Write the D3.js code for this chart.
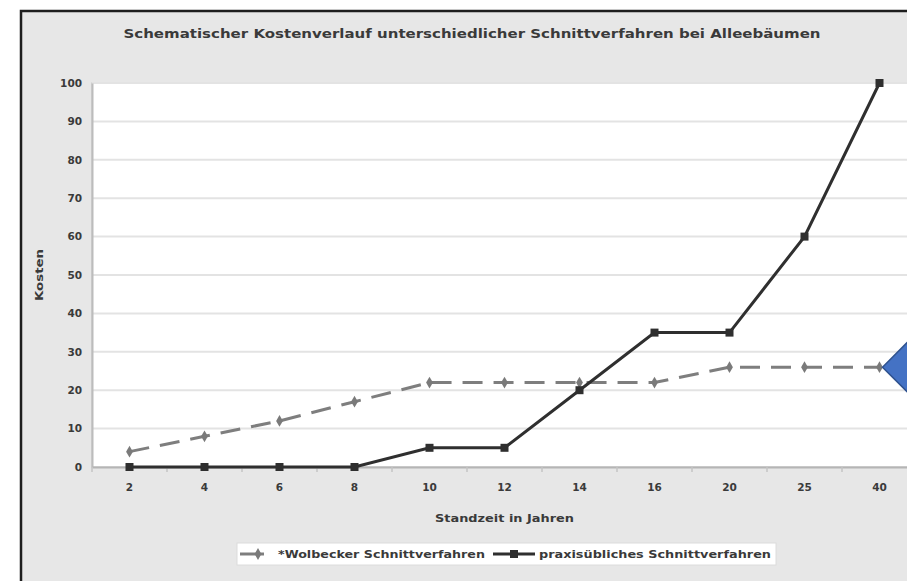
<!DOCTYPE html>
<html><head><meta charset="utf-8">
<script src="https://cdn.jsdelivr.net/npm/d3@7"></script>
<style>body{margin:0;background:#fff;overflow:hidden}</style>
</head><body><svg id="c" width="907" height="581"></svg>
<script>
const categories = ["2","4","6","8","10","12","14","16","20","25","40"];
const wolbecker = [4,8,12,17,22,22,22,22,26,26,26];
const praxis = [0,0,0,0,5,5,20,35,35,60,100];
const yTicks = [0,10,20,30,40,50,60,70,80,90,100];
const seriesNames = ["*Wolbecker Schnittverfahren","praxisübliches Schnittverfahren"];
const title = "Schematischer Kostenverlauf unterschiedlicher Schnittverfahren bei Alleebäumen";
const xTitle = "Standzeit in Jahren";
const yTitle = "Kosten";

const svg = d3.select("#c");
const font = "'DejaVu Sans', Arial, sans-serif";
const txt = "#3a3a3a";

// outer frame
svg.append("rect").attr("x",21).attr("y",11).attr("width",920).attr("height",600)
  .attr("fill","#e7e7e7").attr("stroke","#1e1e1e").attr("stroke-width",2.5);

const m = {left:92, top:83, right:917, bottom:467};
const x = d3.scaleBand().domain(categories).range([m.left,m.right]);
const y = d3.scaleLinear().domain([0,100]).range([m.bottom,m.top]);
const cx = (i)=>x(categories[i])+x.bandwidth()/2;

// plot area
svg.append("rect").attr("x",m.left).attr("y",m.top).attr("width",m.right-m.left).attr("height",m.bottom-m.top)
  .attr("fill","#fff").attr("stroke","#cfcfcf").attr("stroke-width",1.5);

// gridlines
svg.append("g").selectAll("line").data(yTicks.slice(1)).join("line")
  .attr("x1",m.left).attr("x2",m.right).attr("y1",d=>y(d)).attr("y2",d=>y(d))
  .attr("stroke","#e3e3e3").attr("stroke-width",2);

// y axis
const ya = svg.append("g").attr("transform",`translate(${m.left},0)`)
  .call(d3.axisLeft(y).tickValues(yTicks).tickSize(0).tickPadding(10));
ya.select(".domain").attr("stroke","#bcbcbc").attr("stroke-width",2);
ya.selectAll("text").attr("font-family",font).attr("font-size","10.5px").attr("font-weight","bold").attr("fill",txt);

// x axis
const xa = svg.append("g").attr("transform",`translate(0,${m.bottom})`)
  .call(d3.axisBottom(x).tickSize(0).tickPadding(17));
xa.select(".domain").attr("stroke","#b5b5b5").attr("stroke-width",2);
xa.selectAll("text").attr("font-family",font).attr("font-size","10.5px").attr("font-weight","bold").attr("fill",txt);
// band boundary ticks
svg.append("g").selectAll("line").data(categories).join("line")
  .attr("x1",d=>x(d)).attr("x2",d=>x(d)).attr("y1",m.bottom).attr("y2",m.bottom+5)
  .attr("stroke","#c4c4c4").attr("stroke-width",1.5);

// series lines
const line = d3.line().x((d,i)=>cx(i)).y(d=>y(d));
svg.append("path").datum(wolbecker).attr("d",line).attr("fill","none")
  .attr("stroke","#7e7e7e").attr("stroke-width",3).attr("stroke-dasharray","20,11");
svg.append("g").selectAll("path").data(wolbecker).join("path")
  .attr("transform",(d,i)=>`translate(${cx(i)},${y(d)})`)
  .attr("d",d3.symbol(d3.symbolDiamond,40)).attr("fill","#7a7a7a");

svg.append("path").datum(praxis).attr("d",line).attr("fill","none")
  .attr("stroke","#2f2f2f").attr("stroke-width",3);
svg.append("g").selectAll("rect").data(praxis).join("rect")
  .attr("x",(d,i)=>cx(i)-4).attr("y",d=>y(d)-4).attr("width",8).attr("height",8).attr("fill","#2f2f2f");

// title
svg.append("text").attr("x",472).attr("y",38).attr("text-anchor","middle")
  .attr("font-family",font).attr("font-size","13px").attr("font-weight","bold").attr("fill",txt)
  .attr("textLength",697).attr("lengthAdjust","spacingAndGlyphs").text(title);

// axis titles
svg.append("text").attr("x",(m.left+m.right)/2).attr("y",522).attr("text-anchor","middle")
  .attr("font-family",font).attr("font-size","10.5px").attr("font-weight","bold").attr("fill",txt)
  .attr("textLength",139).attr("lengthAdjust","spacingAndGlyphs").text(xTitle);
svg.append("text").attr("transform",`translate(43,${y(50)}) rotate(-90)`).attr("text-anchor","middle")
  .attr("font-family",font).attr("font-size","10.5px").attr("font-weight","bold").attr("fill",txt)
  .attr("textLength",52).attr("lengthAdjust","spacingAndGlyphs").text(yTitle);

// legend
const lg = svg.append("g");
lg.append("rect").attr("x",237).attr("y",543).attr("width",539).attr("height",22)
  .attr("fill","#fff").attr("stroke","#dcdcdc");
lg.append("line").attr("x1",240).attr("x2",264).attr("y1",554).attr("y2",554).attr("stroke","#7e7e7e").attr("stroke-width",3);
lg.append("path").attr("transform","translate(258,554)").attr("d",d3.symbol(d3.symbolDiamond,40)).attr("fill","#7a7a7a");
lg.append("text").attr("x",278).attr("y",558).attr("font-family",font).attr("font-size","10.5px").attr("font-weight","bold").attr("fill",txt)
  .attr("textLength",207).attr("lengthAdjust","spacingAndGlyphs").text(seriesNames[0]);
lg.append("line").attr("x1",493).attr("x2",535).attr("y1",554).attr("y2",554).attr("stroke","#2f2f2f").attr("stroke-width",3);
lg.append("rect").attr("x",510).attr("y",550).attr("width",8).attr("height",8).attr("fill","#2f2f2f");
lg.append("text").attr("x",539).attr("y",558).attr("font-family",font).attr("font-size","10.5px").attr("font-weight","bold").attr("fill",txt)
  .attr("textLength",232).attr("lengthAdjust","spacingAndGlyphs").text(seriesNames[1]);

// blue diamond annotation next to last Wolbecker point
const tipX = cx(categories.length-1)+3, tipY = y(wolbecker[wolbecker.length-1]);
const h = 30;
svg.append("path")
  .attr("d",`M${tipX},${tipY} L${tipX+h},${tipY-h} L${tipX+2*h},${tipY} L${tipX+h},${tipY+h} Z`)
  .attr("fill","#4472c4").attr("stroke","#2f528f").attr("stroke-width",1.5);
</script></body></html>
